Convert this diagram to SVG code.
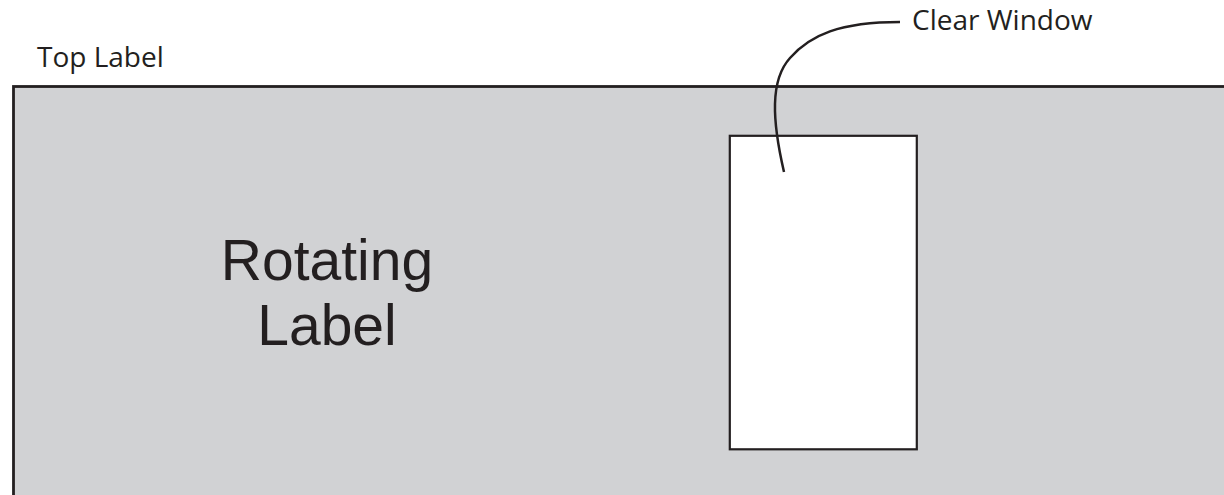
<svg xmlns="http://www.w3.org/2000/svg" width="1224" height="495" viewBox="0 0 1224 495">
<style>
.ln{stroke:#231f20;stroke-width:2.5;fill:none}
.t{font-family:"Open Sans","Liberation Sans",sans-serif;fill:#231f20}
.big{font-family:"Liberation Sans",Arial,sans-serif;fill:#231f20;font-size:57px}
</style>
<rect x="0" y="0" width="1224" height="495" fill="#ffffff"/>
<g id="rotating-label">
<rect x="13.5" y="86.5" width="1230" height="430" fill="#d1d2d4" stroke="#231f20" stroke-width="2.8"/>
<text class="big" x="327" y="280" text-anchor="middle">Rotating</text>
<text class="big" x="327" y="345" text-anchor="middle">Label</text>
</g>
<g id="top-label">
<text class="t" x="37" y="67" font-size="28">Top Label</text>
</g>
<g id="clear-window">
<rect x="729.8" y="135.8" width="187" height="313.5" fill="#ffffff" stroke="#231f20" stroke-width="2.2"/>
</g>
<g id="clear-window-label">
<text class="t" x="912" y="30" font-size="28">Clear Window</text>
</g>
<g id="connectors">
<path class="ln" d="M784,172 C772,120 770,80 790,58 C810,35 840,22 900,22"/>
</g>
</svg>
